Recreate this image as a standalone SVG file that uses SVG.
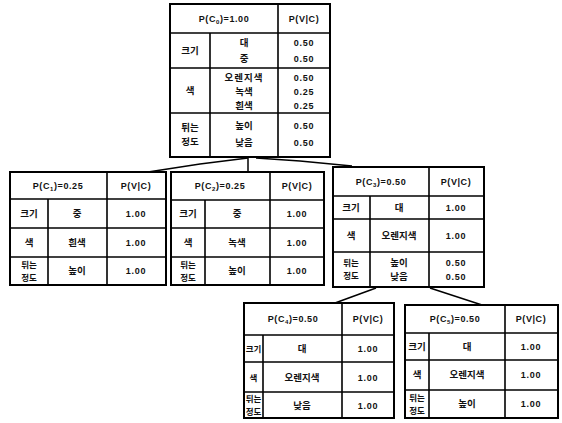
<svg xmlns="http://www.w3.org/2000/svg" width="562" height="423" viewBox="0 0 562 423">
<style>
.b{fill:none;stroke:#000;stroke-width:2}
.l{stroke:#000;stroke-width:1.6}
.c{stroke:#000;stroke-width:1.5;fill:none}
text{font-family:"Liberation Sans","Noto Sans CJK KR",sans-serif;font-weight:bold;font-size:10px;text-anchor:middle;fill:#111}
.k{font-family:"Noto Sans CJK KR","Liberation Sans",sans-serif;font-size:9.5px}
.t{font-family:"Noto Sans CJK KR","Liberation Sans",sans-serif;font-size:8.5px}
.n{font-size:9px;letter-spacing:0.8px}
.h{font-size:9px;letter-spacing:0.6px}
.s{font-size:6px}
</style>
<rect width="562" height="423" fill="#fff"/>
<g id="connectors">
<polyline class="c" points="148,172 200,164 248,158"/>
<line class="c" x1="248" y1="157" x2="248" y2="172"/>
<polyline class="c" points="256,158 300,161 352,166"/>
<line class="c" x1="376" y1="288" x2="335" y2="303"/>
<line class="c" x1="430" y1="288" x2="482" y2="305"/>
</g>
<g id="n0">
<rect class="b" x="170" y="4" width="160" height="153"/>
<line class="l" x1="170" y1="33" x2="330" y2="33"/>
<line class="l" x1="170" y1="68" x2="330" y2="68"/>
<line class="l" x1="170" y1="113" x2="330" y2="113"/>
<line class="l" x1="210" y1="33" x2="210" y2="157"/>
<line class="l" x1="278" y1="4" x2="278" y2="157"/>
<text class="h" x="224" y="22">P(C<tspan class="s" dy="2">0</tspan><tspan dy="-2">)=1.00</tspan></text>
<text class="h" x="304" y="22">P(V|C)</text>
<text class="k" x="190" y="54">크기</text>
<text class="k" x="244" y="46">대</text>
<text class="k" x="244" y="62">중</text>
<text class="n" x="304" y="46">0.50</text>
<text class="n" x="304" y="62">0.50</text>
<text class="k" x="190" y="94">색</text>
<text class="k" x="244" y="81" letter-spacing="1">오렌지색</text>
<text class="k" x="244" y="95">녹색</text>
<text class="k" x="244" y="109">흰색</text>
<text class="n" x="304" y="81">0.50</text>
<text class="n" x="304" y="95">0.25</text>
<text class="n" x="304" y="109">0.25</text>
<text class="k" x="190" y="131">튀는</text>
<text class="k" x="190" y="145">정도</text>
<text class="k" x="244" y="129">높이</text>
<text class="k" x="244" y="146">낮음</text>
<text class="n" x="304" y="129">0.50</text>
<text class="n" x="304" y="146">0.50</text>
</g>
<g id="n1">
<rect class="b" x="10" y="172" width="156" height="113"/>
<line class="l" x1="10" y1="199" x2="166" y2="199"/>
<line class="l" x1="10" y1="228" x2="166" y2="228"/>
<line class="l" x1="10" y1="257" x2="166" y2="257"/>
<line class="l" x1="48" y1="199" x2="48" y2="285"/>
<line class="l" x1="107" y1="172" x2="107" y2="285"/>
<text class="h" x="58" y="189">P(C<tspan class="s" dy="2">1</tspan><tspan dy="-2">)=0.25</tspan></text>
<text class="h" x="136" y="189">P(V|C)</text>
<text class="k" x="29" y="217">크기</text>
<text class="k" x="77" y="217">중</text>
<text class="n" x="136" y="217">1.00</text>
<text class="k" x="29" y="246">색</text>
<text class="k" x="77" y="246">흰색</text>
<text class="n" x="136" y="246">1.00</text>
<text class="t" x="29" y="267.5">튀는</text>
<text class="t" x="29" y="280.5">정도</text>
<text class="k" x="77" y="274">높이</text>
<text class="n" x="136" y="274">1.00</text>
</g>
<g id="n2">
<rect class="b" x="171" y="172" width="153" height="113"/>
<line class="l" x1="171" y1="200" x2="324" y2="200"/>
<line class="l" x1="171" y1="228" x2="324" y2="228"/>
<line class="l" x1="171" y1="257" x2="324" y2="257"/>
<line class="l" x1="205" y1="200" x2="205" y2="285"/>
<line class="l" x1="270" y1="172" x2="270" y2="285"/>
<text class="h" x="220" y="189">P(C<tspan class="s" dy="2">2</tspan><tspan dy="-2">)=0.25</tspan></text>
<text class="h" x="297" y="189">P(V|C)</text>
<text class="k" x="188" y="217">크기</text>
<text class="k" x="237" y="217">중</text>
<text class="n" x="297" y="217">1.00</text>
<text class="k" x="188" y="246">색</text>
<text class="k" x="237" y="246">녹색</text>
<text class="n" x="297" y="246">1.00</text>
<text class="t" x="188" y="267.5">튀는</text>
<text class="t" x="188" y="280.5">정도</text>
<text class="k" x="237" y="274">높이</text>
<text class="n" x="297" y="274">1.00</text>
</g>
<g id="n3">
<rect class="b" x="333" y="167" width="151" height="120"/>
<line class="l" x1="333" y1="196" x2="484" y2="196"/>
<line class="l" x1="333" y1="219" x2="484" y2="219"/>
<line class="l" x1="333" y1="252" x2="484" y2="252"/>
<line class="l" x1="370" y1="196" x2="370" y2="287"/>
<line class="l" x1="429" y1="167" x2="429" y2="287"/>
<text class="h" x="381" y="185">P(C<tspan class="s" dy="2">3</tspan><tspan dy="-2">)=0.50</tspan></text>
<text class="h" x="456" y="185">P(V|C)</text>
<text class="k" x="351" y="211">크기</text>
<text class="k" x="399" y="211">대</text>
<text class="n" x="456" y="211">1.00</text>
<text class="k" x="351" y="239">색</text>
<text class="k" x="399" y="239">오렌지색</text>
<text class="n" x="456" y="239">1.00</text>
<text class="t" x="351" y="266">튀는</text>
<text class="t" x="351" y="279">정도</text>
<text class="k" x="399" y="266">높이</text>
<text class="k" x="399" y="280">낮음</text>
<text class="n" x="456" y="266">0.50</text>
<text class="n" x="456" y="280">0.50</text>
</g>
<g id="n4">
<rect class="b" x="244" y="303" width="150" height="115"/>
<line class="l" x1="244" y1="335" x2="394" y2="335"/>
<line class="l" x1="244" y1="362" x2="394" y2="362"/>
<line class="l" x1="244" y1="392" x2="394" y2="392"/>
<line class="l" x1="263" y1="335" x2="263" y2="418"/>
<line class="l" x1="342" y1="303" x2="342" y2="418"/>
<text class="h" x="293" y="322">P(C<tspan class="s" dy="2">4</tspan><tspan dy="-2">)=0.50</tspan></text>
<text class="h" x="368" y="322">P(V|C)</text>
<text class="t" x="253.5" y="352" font-size="8">크기</text>
<text class="k" x="302" y="352">대</text>
<text class="n" x="368" y="352">1.00</text>
<text class="t" x="253.5" y="381">색</text>
<text class="k" x="302" y="381">오렌지색</text>
<text class="n" x="368" y="381">1.00</text>
<text class="t" x="253.5" y="402" font-size="8">튀는</text>
<text class="t" x="253.5" y="415" font-size="8">정도</text>
<text class="k" x="302" y="409">낮음</text>
<text class="n" x="368" y="409">1.00</text>
</g>
<g id="n5">
<rect class="b" x="405" y="305" width="153" height="113"/>
<line class="l" x1="405" y1="333" x2="558" y2="333"/>
<line class="l" x1="405" y1="360" x2="558" y2="360"/>
<line class="l" x1="405" y1="390" x2="558" y2="390"/>
<line class="l" x1="429" y1="333" x2="429" y2="418"/>
<line class="l" x1="505" y1="305" x2="505" y2="418"/>
<text class="h" x="455" y="322">P(C<tspan class="s" dy="2">5</tspan><tspan dy="-2">)=0.50</tspan></text>
<text class="h" x="531" y="322">P(V|C)</text>
<text class="k" x="417" y="350">크기</text>
<text class="k" x="467" y="350">대</text>
<text class="n" x="531" y="350">1.00</text>
<text class="k" x="417" y="378">색</text>
<text class="k" x="467" y="378">오렌지색</text>
<text class="n" x="531" y="378">1.00</text>
<text class="t" x="417" y="401">튀는</text>
<text class="t" x="417" y="414">정도</text>
<text class="k" x="467" y="407">높이</text>
<text class="n" x="531" y="407">1.00</text>
</g>
</svg>
